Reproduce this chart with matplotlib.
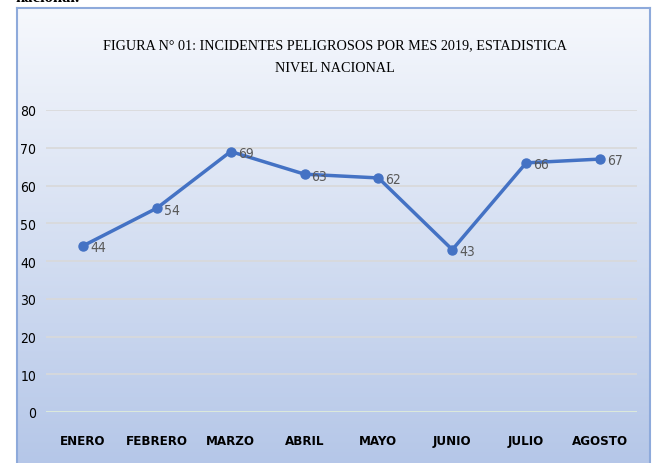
import numpy as np
import matplotlib.pyplot as plt

meses = ['ENERO', 'FEBRERO', 'MARZO', 'ABRIL', 'MAYO', 'JUNIO', 'JULIO', 'AGOSTO']
incidentes = [44, 54, 69, 63, 62, 43, 66, 67]
y_ticks = [0, 10, 20, 30, 40, 50, 60, 70, 80]

titulo = 'FIGURA N° 01: INCIDENTES PELIGROSOS POR MES 2019, ESTADISTICA\nNIVEL NACIONAL'

fig = plt.figure(figsize=(6.53, 4.64), dpi=100)

# fondo con degradado del recuadro del grafico
bg = fig.add_axes([17 / 653, 0, 633 / 653, 455 / 464], zorder=0)
grad = np.linspace(0, 1, 256).reshape(-1, 1)
top = np.array([0.965, 0.973, 0.99])
bot = np.array([0.71, 0.78, 0.91])
img = top + (bot - top) * grad[..., None]
bg.imshow(img, aspect='auto', extent=[0, 1, 0, 1])
bg.set_xlim(0, 1)
bg.set_ylim(0, 1)
bg.set_xticks([])
bg.set_yticks([])
for s in bg.spines.values():
    s.set_color('#8eaadb')
    s.set_linewidth(1.5)
bg.spines['bottom'].set_visible(False)

fig.text(15 / 653, 1 - 1.5 / 464, 'nacional.', fontsize=12, fontweight='bold',
         family='Liberation Serif', va='baseline', ha='left', color='black')

narrow = dict(family='DejaVu Sans', stretch='condensed')

ax = fig.add_axes([46 / 653, 51 / 464, 591 / 653, 302 / 464], zorder=1)
ax.patch.set_visible(False)
x = np.arange(len(meses))
ax.plot(x, incidentes, color='#4472c4', linewidth=2.5, marker='o', markersize=6.5,
        solid_capstyle='round')
for xi, yi in zip(x, incidentes):
    ax.annotate(str(yi), (xi, yi), xytext=(5, -1), textcoords='offset points',
                va='center', ha='left', fontsize=10, color='#595959', **narrow)

ax.set_xlim(-0.5, len(meses) - 0.5)
ax.set_ylim(0, 80)
ax.set_yticks(y_ticks)
ax.set_xticks(x)
ax.set_xticklabels(meses, fontweight='bold', fontsize=9.5, **narrow)
for lab in ax.get_yticklabels():
    lab.set_family('DejaVu Sans')
    lab.set_stretch('condensed')
    lab.set_fontsize(10)
ax.tick_params(length=0, colors='#000000')
ax.tick_params(axis='x', pad=16)
ax.tick_params(axis='y', pad=7)
for s in ax.spines.values():
    s.set_visible(False)
ax.yaxis.grid(True, color='#d9d9d9', linewidth=1.2)
ax.set_axisbelow(True)
gl = ax.get_ygridlines()
gl[0].set_color('#e2efd9')

fig.text(335 / 653, 1 - 57 / 464, titulo, ha='center', va='center',
         fontsize=10.2, family='Liberation Serif', linespacing=1.95, color='black')

fig.savefig('out.png', dpi=100)
